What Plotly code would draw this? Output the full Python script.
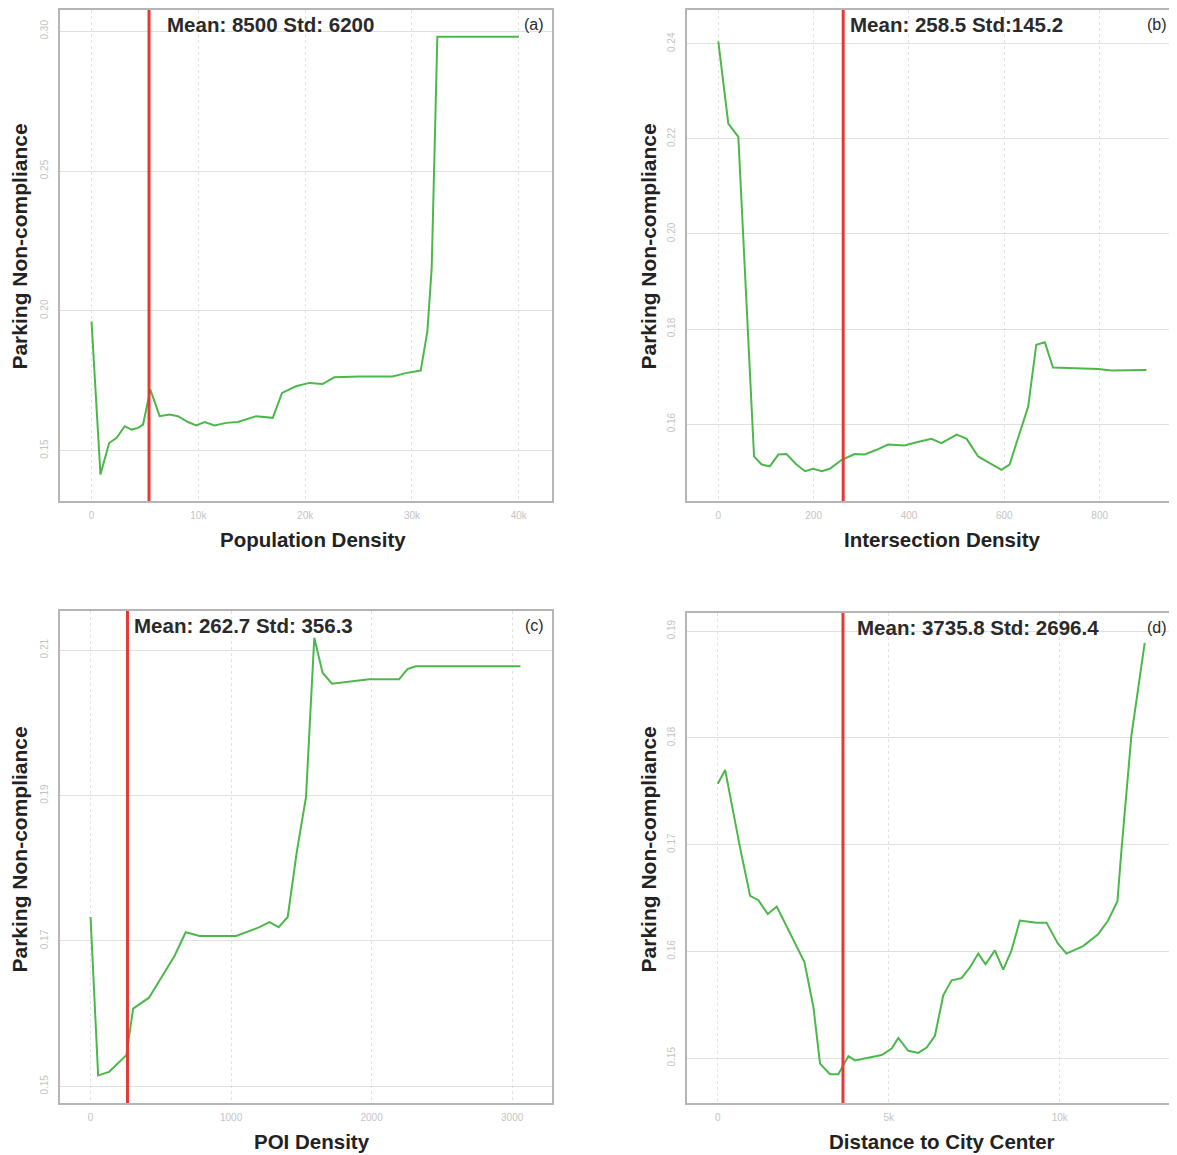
import plotly.graph_objects as go

# The page body has an 8px margin, so reference pixel coords are shifted by OFF.
OFF = 8
W, H = 1177 - OFF, 1155 - OFF

# ---------------- data ----------------
pop_x = [0, 840, 1650, 2335, 3113, 3735, 4358, 4825, 5510, 6381, 7315, 8093, 9027, 9805,
         10584, 11518, 12607, 13697, 15409, 16965, 17837, 19144, 20389, 21634, 22724,
         25058, 28171, 29416, 30817, 31440, 31844, 32373, 34397, 40000]
pop_y = [0.1962, 0.1414, 0.1527, 0.1545, 0.1587, 0.1575, 0.1581, 0.1593, 0.1718, 0.1623,
         0.1629, 0.1623, 0.1602, 0.1590, 0.1602, 0.1590, 0.1599, 0.1602, 0.1623, 0.1617,
         0.1706, 0.1730, 0.1742, 0.1738, 0.1762, 0.1765, 0.1765, 0.1777, 0.1786, 0.1926,
         0.2152, 0.2980, 0.2980, 0.2980]
pop_line = 5385

int_x = [0, 21, 42, 75, 91, 108, 126, 143, 164, 182, 199, 217, 234, 259, 286, 307, 332,
         356, 391, 416, 447, 468, 500, 521, 545, 573, 594, 611, 650, 667, 685, 702, 755,
         797, 825, 898]
int_y = [0.2405, 0.2232, 0.2204, 0.1532, 0.1515, 0.1511, 0.1536, 0.1537, 0.1515, 0.1501,
         0.1506, 0.1501, 0.1506, 0.1525, 0.1537, 0.1536, 0.1546, 0.1557, 0.1555, 0.1562,
         0.1569, 0.1560, 0.1578, 0.1569, 0.1532, 0.1515, 0.1504, 0.1515, 0.1637, 0.1767,
         0.1772, 0.1719, 0.1718, 0.1716, 0.1713, 0.1714]
int_line = 262

poi_x = [0, 54, 132, 255, 303, 416, 492, 599, 677, 776, 1036, 1202, 1273, 1339, 1403,
         1467, 1533, 1592, 1651, 1718, 1982, 2195, 2255, 2314, 3059]
poi_y = [0.1733, 0.1515, 0.1520, 0.1543, 0.1607, 0.1622, 0.1646, 0.1680, 0.1712, 0.1707,
         0.1707, 0.1719, 0.1726, 0.1719, 0.1733, 0.1822, 0.1898, 0.2117, 0.2069, 0.2054,
         0.2060, 0.2060, 0.2074, 0.2078, 0.2078]
poi_line = 262.7

dist_x = [0, 214, 652, 944, 1188, 1461, 1723, 2162, 2532, 2795, 2989, 3281, 3525, 3817,
          4012, 4791, 5083, 5278, 5570, 5862, 6106, 6349, 6592, 6836, 7128, 7371, 7615,
          7829, 8101, 8345, 8588, 8832, 9318, 9611, 9951, 10195, 10682, 11120, 11412,
          11685, 11801, 12093, 12483]
dist_y = [0.1757, 0.1770, 0.1697, 0.1652, 0.1648, 0.1635, 0.1642, 0.1613, 0.1590, 0.1548,
          0.1495, 0.1485, 0.1485, 0.1502, 0.1498, 0.1503, 0.1509, 0.1519, 0.1507, 0.1505,
          0.1510, 0.1521, 0.1559, 0.1573, 0.1575, 0.1585, 0.1598, 0.1588, 0.1601, 0.1583,
          0.1601, 0.1629, 0.1627, 0.1627, 0.1607, 0.1598, 0.1605, 0.1616, 0.1629, 0.1647,
          0.1694, 0.1802, 0.1889]
dist_line = 3660

panels = [
    dict(x=pop_x, y=pop_y, vline=pop_line, xrange=[-2957, 43113], yrange=[0.1319, 0.3076],
         xt=[0, 10000, 20000, 30000, 40000], xtl=["0", "10k", "20k", "30k", "40k"],
         yt=[0.15, 0.20, 0.25, 0.30], ytl=["0.15", "0.20", "0.25", "0.30"],
         xtitle="Population Density", stat="Mean: 8500 Std: 6200", tag="(a)",
         box=(60, 553, 8, 500), stat_x=165, xtitle_c=314, ytitle_x=20, ytitle_c=245),
    dict(x=int_x, y=int_y, vline=int_line, xrange=[-66, 958], yrange=[0.1438, 0.2471],
         xt=[0, 200, 400, 600, 800], xtl=["0", "200", "400", "600", "800"],
         yt=[0.16, 0.18, 0.20, 0.22, 0.24], ytl=["0.16", "0.18", "0.20", "0.22", "0.24"],
         xtitle="Intersection Density", stat="Mean: 258.5 Std:145.2", tag="(b)",
         box=(688, 1177, 8, 500), stat_x=849, xtitle_c=944, ytitle_x=650, ytitle_c=245),
    dict(x=poi_x, y=poi_y, vline=poi_line, xrange=[-218, 3284], yrange=[0.1477, 0.2154],
         xt=[0, 1000, 2000, 3000], xtl=["0", "1000", "2000", "3000"],
         yt=[0.15, 0.17, 0.19, 0.21], ytl=["0.15", "0.17", "0.19", "0.21"],
         xtitle="POI Density", stat="Mean: 262.7 Std: 356.3", tag="(c)",
         box=(60, 553, 610, 1103), stat_x=132, xtitle_c=313, ytitle_x=20, ytitle_c=849),
    dict(x=dist_x, y=dist_y, vline=dist_line, xrange=[-906, 13369], yrange=[0.1458, 0.1917],
         xt=[0, 5000, 10000], xtl=["0", "5k", "10k"],
         yt=[0.15, 0.16, 0.17, 0.18, 0.19], ytl=["0.15", "0.16", "0.17", "0.18", "0.19"],
         xtitle="Distance to City Center", stat="Mean: 3735.8 Std: 2696.4", tag="(d)",
         box=(688, 1177, 612, 1103), stat_x=856, xtitle_c=944, ytitle_x=650, ytitle_c=849),
]

GREEN = "#4cb84c"
RED = "#e53935"
FONT = "Liberation Sans"


def px(xp):
    return (xp - OFF) / W


def py(yp):
    return (H - (yp - OFF)) / H


fig = go.Figure()
annotations = []
layout = {}

for i, p in enumerate(panels, start=1):
    xa = "x" if i == 1 else f"x{i}"
    ya = "y" if i == 1 else f"y{i}"
    x0, x1, y0, y1 = p["box"]
    xdom = [max(0, px(x0)), min(1, px(x1))]
    ydom = [max(0, py(y1)), min(1, py(y0))]

    fig.add_trace(go.Scatter(x=p["x"], y=p["y"], mode="lines",
                             line=dict(color=GREEN, width=2),
                             xaxis=xa, yaxis=ya, showlegend=False))
    fig.add_trace(go.Scatter(x=[p["vline"], p["vline"]], y=p["yrange"], mode="lines",
                             line=dict(color=RED, width=3),
                             xaxis=xa, yaxis=ya, showlegend=False))

    common = dict(showline=True, mirror=True, linecolor="#b5b5b5", linewidth=1.5,
                  ticks="", zeroline=False,
                  tickfont=dict(family=FONT, size=10, color="#c4c4c4"))
    layout["xaxis" if i == 1 else f"xaxis{i}"] = dict(
        domain=xdom, range=p["xrange"], anchor=ya, tickvals=p["xt"], ticktext=p["xtl"],
        showgrid=True, gridcolor="#e3e3e3", griddash="dot", gridwidth=1,
        ticklabelstandoff=4, **common)
    layout["yaxis" if i == 1 else f"yaxis{i}"] = dict(
        domain=ydom, range=p["yrange"], anchor=xa, tickvals=p["yt"], ticktext=p["ytl"],
        tickangle=-90, showgrid=True, gridcolor="#e0e0e0", gridwidth=1,
        ticklabelstandoff=6, **common)

    # stat text
    annotations.append(dict(xref="paper", yref="paper", x=px(p["stat_x"]),
                            y=py(y0 + 15), xanchor="left", yanchor="middle",
                            text=f"<b>{p['stat']}</b>", showarrow=False,
                            font=dict(family=FONT, size=20.5, color="#2a2a2a")))
    annotations.append(dict(xref="paper", yref="paper", x=px(x1 - 6),
                            y=py(y0 + 15), xanchor="right", yanchor="middle",
                            text=p["tag"], showarrow=False,
                            font=dict(family=FONT, size=16, color="#2a2a2a")))
    # x title
    annotations.append(dict(xref="paper", yref="paper", x=px(p["xtitle_c"]),
                            y=py(y1 + 38), xanchor="center", yanchor="middle",
                            text=f"<b>{p['xtitle']}</b>", showarrow=False,
                            font=dict(family=FONT, size=20.5, color="#222222")))
    # y title
    annotations.append(dict(xref="paper", yref="paper", x=px(p["ytitle_x"]),
                            y=py(p["ytitle_c"]), xanchor="center", yanchor="middle",
                            text="<b>Parking Non-compliance</b>", textangle=-90,
                            showarrow=False,
                            font=dict(family=FONT, size=21, color="#222222")))

fig.update_layout(width=W, height=H, autosize=False,
                  margin=dict(l=0, r=0, t=0, b=0),
                  paper_bgcolor="white", plot_bgcolor="white",
                  annotations=annotations, **layout)

fig.write_html("out.html")
